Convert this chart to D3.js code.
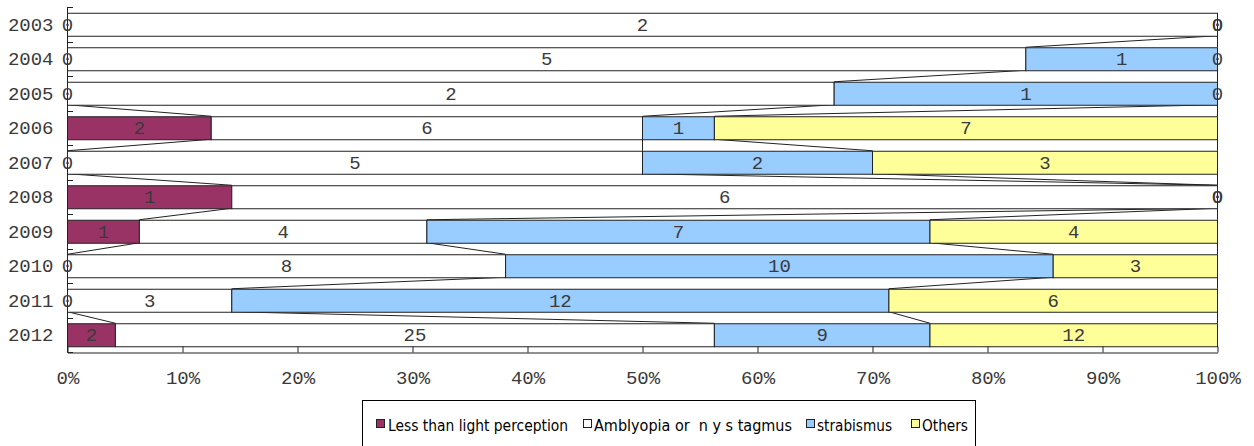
<!DOCTYPE html>
<html><head><meta charset="utf-8">
<script src="https://cdn.jsdelivr.net/npm/d3@7"></script>
<style>body{margin:0;background:#fff}svg{display:block}</style>
</head><body>
<svg id="c" width="1254" height="446"></svg>
<script>
const years = ["2003","2004","2005","2006","2007","2008","2009","2010","2011","2012"];
const seriesNames = ["Less than light perception","Amblyopia or  n y s tagmus","strabismus","Others"];
const lessLight = [0,0,0,2,0,1,1,0,0,2];
const amblyopia = [2,5,2,6,5,6,4,8,3,25];
const strabismus = [0,1,1,1,2,0,7,10,12,9];
const others = [0,0,0,7,3,0,4,3,6,12];
const tickLabels = ["0%","10%","20%","30%","40%","50%","60%","70%","80%","90%","100%"];
const colors = ["#993366","#ffffff","#99ccff","#ffff99"];

const svg = d3.select("#c");
const x = d3.scaleLinear().domain([0,1]).range([67.5,1217.5]);
const y = d3.scaleBand().domain(years).range([7,352]).paddingInner(1/3).paddingOuter(1/6);
const mono = "'Liberation Mono','Courier New',monospace";
const txtCol = "#3a3a3a";

const series = [lessLight, amblyopia, strabismus, others];
const rows = years.map((yr,i)=>{
  const vals = series.map(s=>s[i]);
  const tot = d3.sum(vals);
  let c = 0;
  const segs = vals.map((v,k)=>{const s={k,v,x0:c/tot}; c+=v; s.x1=c/tot; return s;});
  return {yr, segs};
});

// series lines
const gl = svg.append("g");
for (let i=0;i<rows.length-1;i++){
  for (let k=0;k<4;k++){
    gl.append("line")
      .attr("x1", x(rows[i].segs[k].x1)).attr("y1", y(rows[i].yr)+y.bandwidth())
      .attr("x2", x(rows[i+1].segs[k].x1)).attr("y2", y(rows[i+1].yr))
      .attr("stroke","#222").attr("stroke-width",1);
  }
}

// bars
const gb = svg.append("g");
rows.forEach(r=>{
  r.segs.forEach(s=>{
    if (s.v===0) return;
    gb.append("rect")
      .attr("x", x(s.x0)).attr("y", y(r.yr)+0.5)
      .attr("width", x(s.x1)-x(s.x0)).attr("height", y.bandwidth())
      .attr("fill", colors[s.k]).attr("stroke","#222").attr("stroke-width",1);
  });
});

// axes
const gx = svg.append("g").attr("transform","translate(0,352.5)")
  .call(d3.axisBottom(x).tickValues(d3.range(0,11).map(d=>d/10)).tickFormat((d,i)=>tickLabels[i]).tickSizeInner(-6).tickSizeOuter(0).tickPadding(18));
gx.select(".domain").attr("stroke","#222");
gx.selectAll(".tick line").attr("stroke","#222");
gx.selectAll("text").attr("font-family",mono).attr("font-size",19).attr("fill",txtCol);

svg.append("line").attr("x1",67.5).attr("x2",67.5).attr("y1",7).attr("y2",352.5).attr("stroke","#222");
d3.range(0, years.length+1).forEach(i=>{
  const yy = Math.round(7 + i*y.step()) + 0.5;
  svg.append("line").attr("x1",67.5).attr("x2",73).attr("y1",yy).attr("y2",yy).attr("stroke","#222");
});
svg.append("g").selectAll("text").data(years).join("text")
  .attr("x",53.5).attr("y",d=>y(d)+y.bandwidth()/2).attr("dy","0.35em")
  .attr("text-anchor","end").attr("font-family",mono).attr("font-size",19).attr("fill",txtCol).text(d=>d);

// data labels
const gt = svg.append("g");
rows.forEach(r=>{
  r.segs.forEach(s=>{
    gt.append("text").attr("x",(x(s.x0)+x(s.x1))/2).attr("y",y(r.yr)+y.bandwidth()/2).attr("dy","0.35em")
      .attr("text-anchor","middle").attr("font-family",mono).attr("font-size",19).attr("fill",txtCol).text(s.v);
  });
});

// legend
const lg = svg.append("g");
lg.append("rect").attr("x",362.5).attr("y",400.5).attr("width",613).attr("height",60).attr("fill","#fff").attr("stroke","#000");
const lx = [376,583,806,911];
const tx = [388,594,817,922];
const tw = [180,198,75,46];
seriesNames.forEach((n,k)=>{
  lg.append("rect").attr("x",lx[k]+0.5).attr("y",419.5).attr("width",8).attr("height",8).attr("fill",colors[k]).attr("stroke","#222");
  lg.append("text").attr("x",tx[k]).attr("y",431).attr("font-family","'DejaVu Sans Condensed','Liberation Sans',sans-serif")
    .attr("font-size",16).attr("fill","#000").attr("textLength",tw[k]).attr("lengthAdjust","spacingAndGlyphs")
    .attr("xml:space","preserve").style("white-space","pre").text(n);
});
</script>
</body></html>
